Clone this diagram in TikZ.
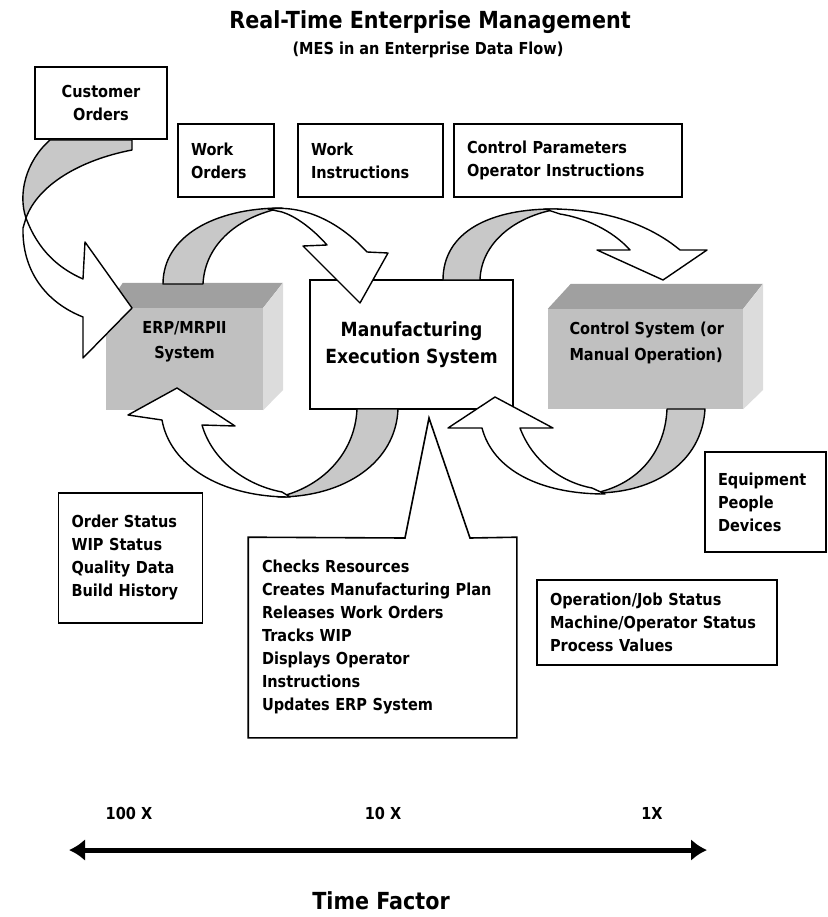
\documentclass[tikz,border=0pt]{standalone}
\usepackage{fontspec}
\setmainfont{DejaVu Sans}[FakeStretch=0.88]
\usetikzlibrary{arrows.meta}

\definecolor{facefront}{HTML}{C0C0C0}
\definecolor{facetop}{HTML}{A0A0A0}
\definecolor{faceside}{HTML}{DCDCDC}
\definecolor{bandgray}{HTML}{C8C8C8}

\begin{document}
\begin{tikzpicture}[x=1pt, y=-1pt, font=\bfseries]

        % Setup the styles
        \tikzset{box/.style={draw, line width=1.6pt, fill=white, align=left,
                             inner xsep=13pt, inner ysep=0pt,
                             font=\fontsize{16.5}{23}\selectfont\bfseries},
                 lbl/.style={font=\fontsize{16.5}{19}\selectfont\bfseries},
                 big/.style={font=\fontsize{23.5}{27}\selectfont\bfseries},
                 band/.style={draw, line width=1.4pt, line join=round, fill=bandgray},
                 head/.style={draw, line width=1.4pt, line join=round, fill=white}}

        \useasboundingbox (0,0) rectangle (827,917);

        % Title
        \node[big] at (430,22) (title) {Real-Time Enterprise Management};
        \node[lbl] at (428,50) (sub) {(MES in an Enterprise Data Flow)};

        % The 3D system blocks
        \node[fill=facefront, minimum width=157pt, minimum height=102pt, inner sep=0pt]
                                at (184.5,359) (erp) {};
        \fill[facetop] (erp.north west) -- ++(17,-25) -- ++(160,0) -- (erp.north east) -- cycle;
        \fill[faceside] (erp.north east) -- ++(20,-25) -- ++(0,107) -- (erp.south east) -- cycle;
        \node[lbl, align=center, font=\fontsize{16.5}{25}\selectfont\bfseries]
                                at (184.5,342) (erplbl) {ERP/MRPII\\System};

        \node[fill=facefront, minimum width=195pt, minimum height=100pt, inner sep=0pt]
                                at (645.5,359) (ctrl) {};
        \fill[facetop] (ctrl.north west) -- ++(23,-25) -- ++(192,0) -- (ctrl.north east) -- cycle;
        \fill[faceside] (ctrl.north east) -- ++(20,-25) -- ++(0,106) -- (ctrl.south east) -- cycle;
        \node[lbl, align=left, anchor=west, font=\fontsize{16.5}{26}\selectfont\bfseries]
                                at (566,343) (ctrllbl) {Control System (or\\Manual Operation)};

        \node[draw, line width=1.6pt, fill=white, minimum width=203pt, minimum height=129pt,
              align=center, font=\fontsize{19.5}{27}\selectfont\bfseries]
                                at (411.5,344.5) (mes) {Manufacturing\\Execution System};

        % Data boxes
        \node[box, align=center, text width=106pt, minimum height=72pt]
                                at (101,103) (cust) {Customer\\Orders};
        \node[box, text width=70pt, minimum height=73pt]
                                at (226,160.5) (wo) {Work\\Orders};
        \node[box, text width=119pt, minimum height=73pt]
                                at (370.5,160.5) (wi) {Work\\Instructions};
        \node[box, text width=202pt, minimum height=73pt]
                                at (568,160.5) (cp) {Control Parameters\\Operator Instructions};
        \node[box, text width=118pt, minimum height=130pt]
                                at (130.5,558) (os) {Order Status\\WIP Status\\Quality Data\\Build History\\[8pt]};
        \node[box, text width=95pt, minimum height=100pt]
                                at (765.5,502) (eq) {Equipment\\People\\Devices};
        \node[box, text width=214pt, minimum height=85pt]
                                at (657,622.5) (op) {Operation/Job Status\\Machine/Operator Status\\Process Values};

        % MES callout
        \node[box, draw=none, fill=none, text width=241pt, minimum height=199pt]
                                at (382.5,637.5) (notes) {Checks Resources\\Creates Manufacturing Plan\\Releases Work Orders\\Tracks WIP\\Displays Operator\\Instructions\\Updates ERP System};
        \draw[line width=1.6pt] (notes.north west) -- (405,538) -- (429,418) -- (470,538)
            -- (notes.north east) -- (notes.south east) -- (notes.south west) -- cycle;

        % Ribbon arrows: customer orders into ERP
        \draw[band] (50,140) -- (132,140) -- (132,150) .. controls (80,160) and (38,185) .. (26,218)
            .. controls (18,195) and (25,162) .. (50,140) -- cycle;
        \draw[head] (26,218) .. controls (38,250) and (58,268) .. (83,279) -- (85,242) -- (132,308)
            -- (83,358) -- (83,317) .. controls (45,302) and (22,270) .. (23,228) -- cycle;

        % ERP to MES
        \draw[band] (163,284) .. controls (163,236) and (215,208) .. (282,208)
            .. controls (240,216) and (205,243) .. (203,284) -- cycle;
        \draw[head] (268,209) .. controls (310,204) and (345,228) .. (367,252) -- (388,253) -- (360,303)
            -- (303,246) -- (327,245) .. controls (312,228) and (295,216) .. (282,212) -- cycle;

        % MES to ERP
        \draw[band] (398,409) .. controls (396,462) and (345,497) .. (278,497)
            .. controls (320,488) and (355,455) .. (357,409) -- cycle;
        \draw[head] (290,497) .. controls (220,497) and (170,465) .. (162,420) -- (128,415) -- (177,388)
            -- (235,426) -- (202,425) .. controls (212,460) and (245,485) .. (282,492) -- cycle;

        % MES to control system
        \draw[band] (443,280) .. controls (443,232) and (490,208) .. (558,209)
            .. controls (515,216) and (481,243) .. (480,280) -- cycle;
        \draw[head] (545,209) .. controls (605,208) and (650,225) .. (680,250) -- (707,250) -- (663,280)
            -- (597,250) -- (630,250) .. controls (612,230) and (585,218) .. (560,214) -- cycle;

        % Control system to MES
        \draw[band] (705,409) .. controls (702,462) and (655,493) .. (595,493)
            .. controls (635,485) and (665,455) .. (667,409) -- cycle;
        \draw[head] (605,494) .. controls (540,494) and (493,470) .. (482,428) -- (448,428) -- (495,397)
            -- (553,428) -- (520,428) .. controls (532,460) and (560,482) .. (592,488) -- cycle;

        % Time axis
        \coordinate (tl) at (69,850);
        \coordinate (tr) at (707,850);
        \draw[line width=5pt, {Latex[length=16pt,width=22pt]}-{Latex[length=16pt,width=22pt]}] (tl) -- (tr);
        \node[lbl] at (129,813) (x100) {100 X};
        \node[lbl] at (383,813) (x10) {10 X};
        \node[lbl] at (652,813) (x1) {1X};
        \node[big] at (381,901) (tf) {Time Factor};

\end{tikzpicture}
\end{document}
